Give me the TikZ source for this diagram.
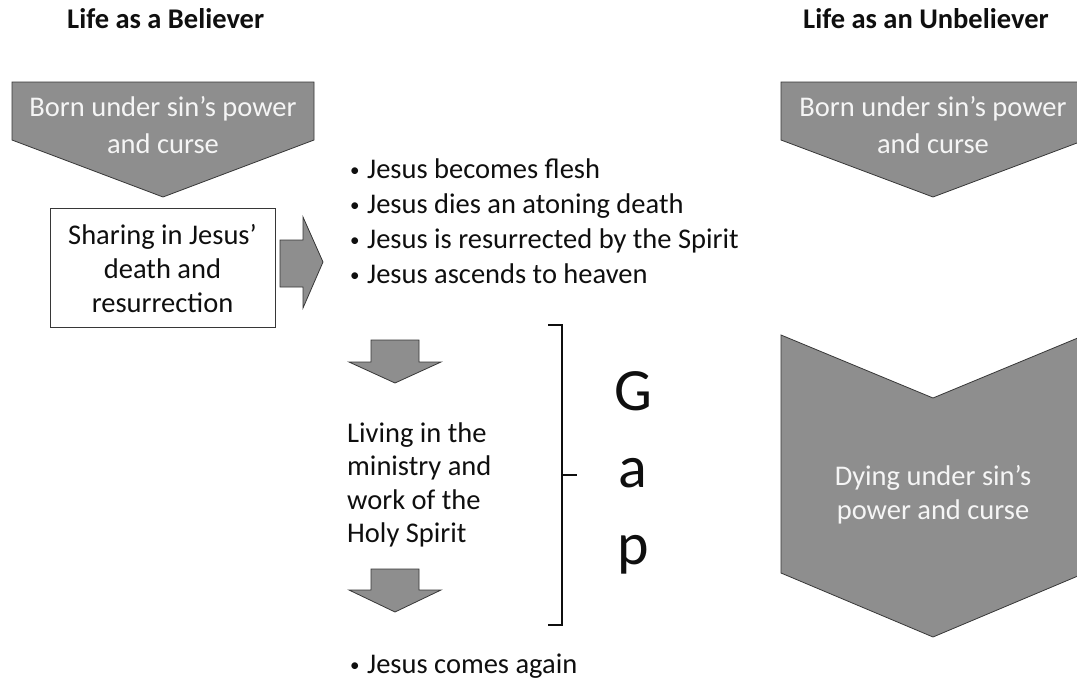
\documentclass[tikz,border=0pt]{standalone}
\usepackage{fontspec}
\setmainfont{Carlito}
\definecolor{shapegray}{RGB}{142,142,142}
\definecolor{edgegray}{RGB}{55,55,55}
\definecolor{lighttext}{RGB}{245,245,245}
\definecolor{darktext}{RGB}{15,15,15}
\tikzset{
  shapefill/.style={fill=shapegray, draw=edgegray, line width=0.8pt, line join=miter},
  bodytext/.style={font=\fontsize{28.5}{35}\selectfont, inner sep=0pt, text=darktext},
  bullettext/.style={font=\fontsize{19}{20}\selectfont, inner sep=0pt, text=darktext, anchor=base west},
  lighttxt/.style={font=\fontsize{28.5}{35}\selectfont, inner sep=0pt, text=lighttext, anchor=base},
  titletext/.style={font=\bfseries\fontsize{28.5}{35}\selectfont, inner sep=0pt, text=darktext, anchor=base west},
  gaptext/.style={font=\fontsize{60}{70}\selectfont, inner sep=0pt, text=darktext, anchor=base},
  bracketline/.style={draw=darktext, line width=1.5pt}
}
\begin{document}
\begin{tikzpicture}[x=1pt,y=-1pt]
\useasboundingbox (0,0) rectangle (1077,681);
\clip (0,0) rectangle (1077,681);
\fill[white] (0,0) rectangle (1077,681);

% titles
\node[titletext] (tbel) at (67,28) {Life as a Believer};
\node[titletext] (tunb) at (803,28) {Life as an Unbeliever};

% left pentagon
\draw[shapefill] (12,82) -- (314,82) -- (314,140) -- (163,197) -- (12,140) -- cycle;
\node[lighttxt] (bl1) at (163,116) {Born under sin’s power};
\node[lighttxt] (bl2) at (163,153) {and curse};

% sharing box
\node[draw=edgegray, line width=0.8pt, fill=white, minimum width=225pt, minimum height=119pt, inner sep=0pt, anchor=north west] (share) at (50,208) {};
\node[bodytext, anchor=base] (sh1) at (162.5,244) {Sharing in Jesus’};
\node[bodytext, anchor=base] (sh2) at (162.5,278) {death and};
\node[bodytext, anchor=base] (sh3) at (162.5,312) {resurrection};

% right block arrow
\draw[shapefill] (280,240) -- (303,240) -- (303,217) -- (323,262) -- (303,308) -- (303,287) -- (280,287) -- cycle;

% bullets
\foreach \y/\t/\n in {178/Jesus becomes flesh/b1, 213/Jesus dies an atoning death/b2, 248/Jesus is resurrected by the Spirit/b3, 283/Jesus ascends to heaven/b4, 673/Jesus comes again/b5}{
  \node[bullettext] (\n dot) at (350,\y-1.5) {•};
  \node[bodytext, anchor=base west] (\n) at (367,\y) {\t};
}

% down arrows
\draw[shapefill] (371,340) -- (419,340) -- (419,362) -- (441,362) -- (395,383) -- (349,362) -- (371,362) -- cycle;
\draw[shapefill] (371,569) -- (419,569) -- (419,590) -- (441,590) -- (395,612) -- (349,590) -- (371,590) -- cycle;

% living text
\node[bodytext, anchor=base west] (lv1) at (347,442) {Living in the};
\node[bodytext, anchor=base west] (lv2) at (347,475) {ministry and};
\node[bodytext, anchor=base west] (lv3) at (347,509) {work of the};
\node[bodytext, anchor=base west] (lv4) at (347,542) {Holy Spirit};

% bracket
\draw[bracketline] (548,325) -- (562,325) -- (562,625) -- (548,625);
\draw[bracketline] (562,475) -- (577,475);

% Gap
\node[gaptext] (gG) at (633,410) {G};
\node[gaptext] (ga) at (633,487) {a};
\node[gaptext] (gp) at (633,564) {p};

% right pentagon
\draw[shapefill] (781,82) -- (1085,82) -- (1085,140) -- (933,197) -- (781,140) -- cycle;
\node[lighttxt] (br1) at (933,116) {Born under sin’s power};
\node[lighttxt] (br2) at (933,153) {and curse};

% big chevron
\draw[shapefill] (781,335) -- (933,398) -- (1085,335) -- (1085,573) -- (933,637) -- (781,573) -- cycle;
\node[lighttxt] (dy1) at (933,485) {Dying under sin’s};
\node[lighttxt] (dy2) at (933,519) {power and curse};
\end{tikzpicture}
\end{document}
